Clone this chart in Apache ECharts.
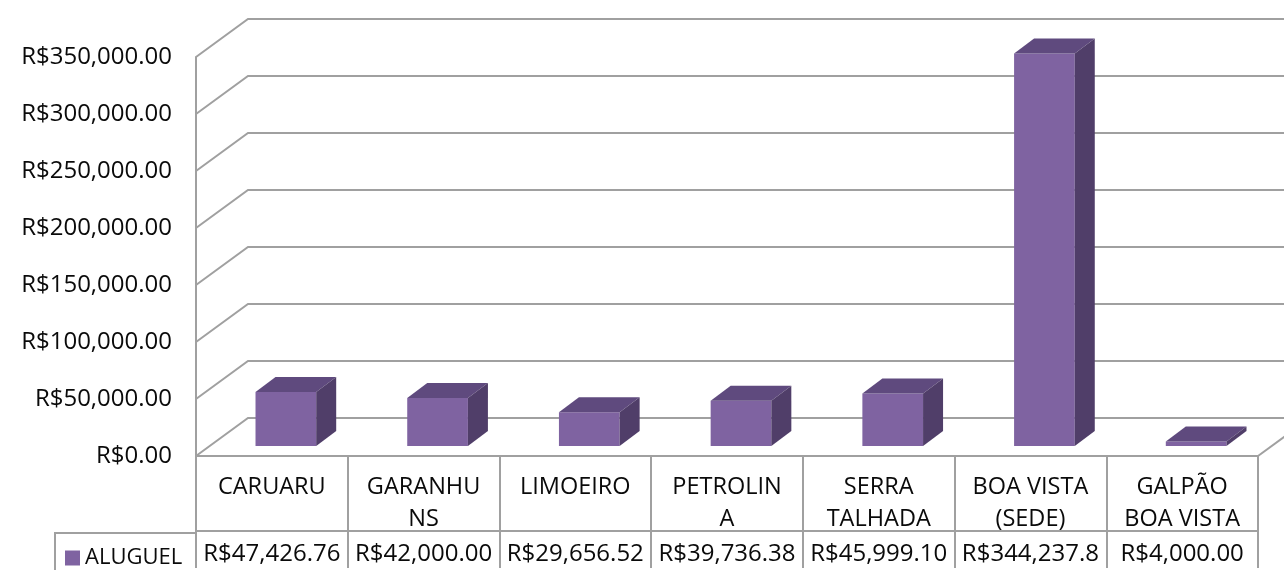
<!DOCTYPE html>
<html>
<head>
<meta charset="utf-8">
<script src="https://cdn.jsdelivr.net/npm/echarts@6/dist/echarts.min.js"></script>
<style>
    html, body { margin: 0; padding: 0; background: #fff; }
    #AluguelChart { width: 1284px; height: 570px; }
</style>
</head>
<body>
<div id="AluguelChart"></div>
<script>
// categorias (com a quebra de linha como aparece na tabela)
const categories = ['CARUARU', 'GARANHU\nNS', 'LIMOEIRO', 'PETROLIN\nA', 'SERRA\nTALHADA', 'BOA VISTA\n(SEDE)', 'GALPÃO\nBOA VISTA'];
const seriesName = 'ALUGUEL';
const aluguelValues = [47426.76, 42000.00, 29656.52, 39736.38, 45999.10, 344237.8, 4000.00];
// texto da linha de dados da tabela (a célula do BOA VISTA vem cortada no original)
const tableText = ['R$47,426.76', 'R$42,000.00', 'R$29,656.52', 'R$39,736.38', 'R$45,999.10', 'R$344,237.8', 'R$4,000.00'];
const yTicks = [0, 50000, 100000, 150000, 200000, 250000, 300000, 350000];

const textColor = '#0a0a0a';
const lineColor = '#a0a0a0';
const fontFamily = '"Open Sans", sans-serif';
const depth = [52, -38]; // profundidade do "piso" 3D

const myChart = echarts.init(document.getElementById('AluguelChart'));

function money(v) {
    return 'R$' + v.toLocaleString('en-US', { minimumFractionDigits: 2, maximumFractionDigits: 2 });
}

const option = {
    animation: false,
    grid: {
        left: 196,
        right: 26,
        top: 57,
        bottom: 112
    },
    legend: {
        data: [{ name: seriesName, icon: 'rect' }],
        left: 65,
        top: 547,
        padding: 0,
        itemWidth: 15,
        itemHeight: 15,
        selectedMode: false,
        textStyle: {
            color: textColor,
            fontFamily: fontFamily,
            fontSize: 22
        }
    },
    xAxis: [
        {
            type: 'category',
            data: categories,
            axisLine: { lineStyle: { color: lineColor, width: 2 } },
            axisTick: {
                show: true,
                length: 112,
                lineStyle: { color: lineColor, width: 2 }
            },
            axisLabel: {
                interval: 0,
                margin: 15,
                color: textColor,
                fontFamily: fontFamily,
                fontSize: 23.5,
                lineHeight: 32
            },
            splitLine: { show: false }
        },
        {
            type: 'category',
            data: categories,
            position: 'bottom',
            offset: 75,
            axisLine: { show: true, lineStyle: { color: lineColor, width: 2 } },
            axisTick: { show: false },
            axisLabel: {
                interval: 0,
                margin: 7,
                color: textColor,
                fontFamily: fontFamily,
                fontSize: 24,
                lineHeight: 32,
                formatter: (val, idx) => tableText[idx]
            },
            splitLine: { show: false }
        }
    ],
    yAxis: {
        type: 'value',
        min: 0,
        max: 350000,
        interval: 50000,
        axisLine: { show: true, lineStyle: { color: lineColor, width: 2 } },
        axisTick: { show: false },
        splitLine: { show: false },
        axisLabel: {
            margin: 24,
            color: textColor,
            fontFamily: fontFamily,
            fontSize: 24,
            formatter: v => money(v)
        }
    },
    graphic: [
        {
            type: 'polyline',
            shape: { points: [[55, 570], [55, 533], [197, 533]] },
            style: { stroke: lineColor, lineWidth: 2, fill: null }
        }
    ],
    series: [
        {
            // paredes / linhas de grade no fundo
            name: 'walls',
            type: 'custom',
            silent: true,
            z: 1,
            data: yTicks.map(v => [0, v]),
            renderItem: (params, api) => {
                const cs = params.coordSys;
                const y = api.coord([0, api.value(1)])[1];
                const pts = [
                    [cs.x, y],
                    [cs.x + depth[0], y + depth[1]],
                    [cs.x + cs.width + depth[0], y + depth[1]]
                ];
                const children = [{
                    type: 'polyline',
                    shape: { points: pts },
                    style: { stroke: lineColor, lineWidth: 2, fill: null }
                }];
                if (api.value(1) === 0) {
                    children.push({
                        type: 'line',
                        shape: { x1: cs.x + cs.width, y1: y, x2: cs.x + cs.width + depth[0], y2: y + depth[1] },
                        style: { stroke: lineColor, lineWidth: 2 }
                    });
                }
                return { type: 'group', children: children };
            }
        },
        {
            name: seriesName,
            type: 'custom',
            z: 3,
            itemStyle: { color: '#7F63A1' },
            data: aluguelValues.map((v, i) => [i, v]),
            renderItem: (params, api) => {
                const bottom = api.coord([api.value(0), 0]);
                const top = api.coord([api.value(0), api.value(1)]);
                const bw = api.size([1, 0])[0] * 0.4;
                const cx = bottom[0] + 14;
                const L = cx - bw / 2;
                const R = cx + bw / 2;
                const B = bottom[1] - 10;
                const T = top[1] - 10;
                const dx = 20, dy = -15;
                return {
                    type: 'group',
                    children: [
                        {
                            type: 'rect',
                            shape: { x: L, y: T, width: R - L, height: B - T },
                            style: { fill: '#7F63A1' }
                        },
                        {
                            type: 'polygon',
                            shape: { points: [[L, T], [R, T], [R + dx, T + dy], [L + dx, T + dy]] },
                            style: { fill: '#5F4A7E' }
                        },
                        {
                            type: 'polygon',
                            shape: { points: [[R, T], [R + dx, T + dy], [R + dx, B + dy], [R, B]] },
                            style: { fill: '#503E69' }
                        }
                    ]
                };
            }
        }
    ]
};

myChart.setOption(option);
</script>
</body>
</html>
